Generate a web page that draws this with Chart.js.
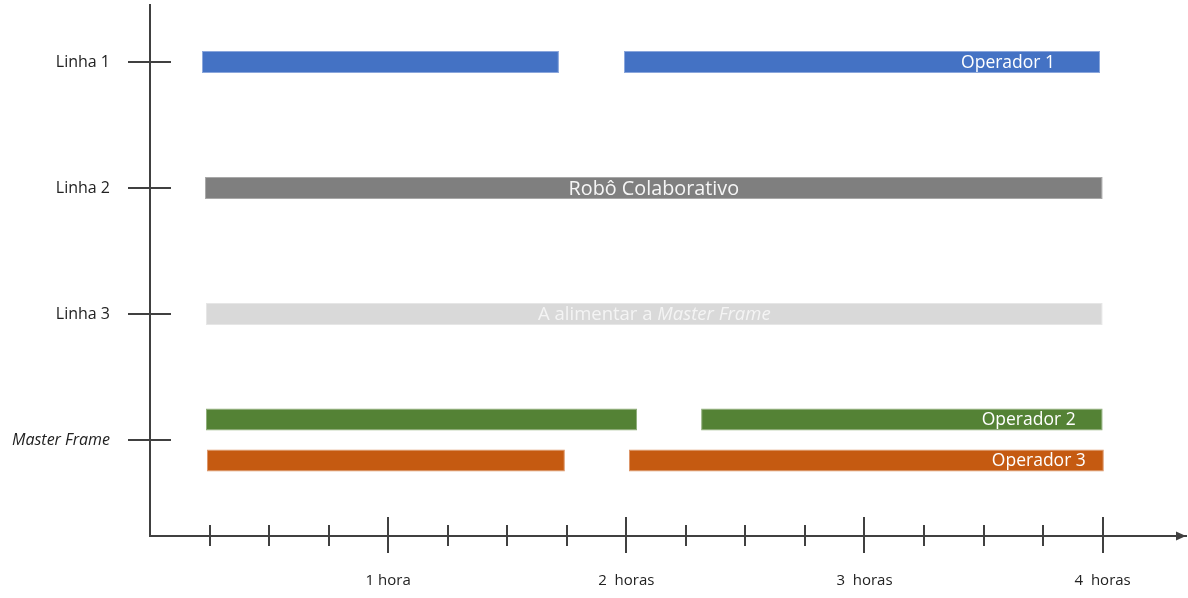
<!DOCTYPE html>
<html>
<head>
<meta charset="utf-8">
<script src="https://cdn.jsdelivr.net/npm/chart.js@4.4.0/dist/chart.umd.min.js"></script>
<style>
html,body{margin:0;padding:0;background:#ffffff;}
#wrap{width:1188px;height:598px;position:relative;}
</style>
</head>
<body>
<div id="wrap"><canvas id="c" width="1188" height="598"></canvas></div>
<script>
// ---- data ----
const rows = ['Linha 1', 'Linha 2', 'Linha 3', 'Master Frame'];
const tickValues = [0.25, 0.5, 0.75, 1, 1.25, 1.5, 1.75, 2, 2.25, 2.5, 2.75, 3, 3.25, 3.5, 3.75, 4];
const tickLabels = ['', '', '', '1 hora', '', '', '', '2  horas', '', '', '', '3  horas', '', '', '', '4  horas'];

// time segments in hours [start, end]
const operador1 = [[0.218, 1.717], [1.99, 3.989]];   // Linha 1
const robo = [[0.231, 4.0]];                         // Linha 2
const alimentar = [[0.235, 4.0]];                    // Linha 3
const operador2 = [[0.235, 2.045], [2.314, 4.0]];    // Master Frame
const operador3 = [[0.239, 1.742], [2.011, 4.005]];  // Master Frame

const seriesNames = ['Operador 1', 'Robô Colaborativo', 'A alimentar a Master Frame', 'Operador 2', 'Operador 3'];
const seriesRows = ['Linha 1', 'Linha 2', 'Linha 3', 'Master Frame', 'Master Frame'];

// ---- styles ----
const FONT = "'Open Sans', 'Liberation Sans', sans-serif";
const AXIS = '#404040';
const colors = ['#4472C4', '#7F7F7F', '#D9D9D9', '#548235', '#C55A11'];
const edgeColors = ['#8aa6dc', '#a8a8a8', '#e6e6e6', '#8fae7a', '#dc9466'];
const textStyles = [
  {seg: 1, align: 'right', pad: 45, size: 17.5, color: '#ffffff'},
  {seg: 0, align: 'center', pad: 0, size: 19.8, color: '#f6f6f6'},
  {seg: 0, align: 'center', pad: 0, size: 18.5, color: '#f4f4f4', italicPart: 'Master Frame'},
  {seg: 1, align: 'right', pad: 27, size: 17.5, color: '#ffffff'},
  {seg: 1, align: 'right', pad: 18, size: 17.5, color: '#ffffff'}
];

const segs = [operador1, robo, alimentar, operador2, operador3];
const toPoints = (list, row) => list.map(([a, b]) => ({x: [a, b], y: rows.indexOf(row)}));

const datasets = segs.map((list, i) => ({
  label: seriesNames[i],
  data: toPoints(list, seriesRows[i]),
  backgroundColor: colors[i],
  borderColor: edgeColors[i],
  borderWidth: 1,
  borderSkipped: false,
  grouped: seriesRows[i] === 'Master Frame',
  categoryPercentage: 0.65,
  barPercentage: 0.9,
  maxBarThickness: 22
}));

const decor = {
  id: 'decor',
  afterDatasetsDraw(chart) {
    const {ctx} = chart;
    ctx.save();
    datasets.forEach((ds, i) => {
      const st = textStyles[i];
      const meta = chart.getDatasetMeta(i);
      const el = meta.data[st.seg];
      if (!el) return;
      const left = Math.min(el.x, el.base), right = Math.max(el.x, el.base);
      const cy = el.y + 1;
      const name = seriesNames[i];
      let runs = [[name, 'normal']];
      if (st.italicPart && name.endsWith(st.italicPart)) {
        runs = [[name.slice(0, name.length - st.italicPart.length), 'normal'], [st.italicPart, 'italic']];
      }
      let total = 0;
      const widths = runs.map(([t, s]) => {
        ctx.font = `${s} 400 ${st.size}px ${FONT}`;
        const w = ctx.measureText(t).width; total += w; return w;
      });
      let x0 = st.align === 'center' ? (left + right) / 2 - total / 2 : right - st.pad - total;
      ctx.fillStyle = st.color;
      ctx.textBaseline = 'middle';
      ctx.textAlign = 'left';
      runs.forEach(([t, s], k) => {
        ctx.font = `${s} 400 ${st.size}px ${FONT}`;
        ctx.fillText(t, x0, cy);
        x0 += widths[k];
      });
    });
    ctx.restore();
  },
  afterDraw(chart) {
    const {ctx, scales: {x, y}, chartArea: a} = chart;
    ctx.save();
    ctx.strokeStyle = AXIS;
    ctx.lineWidth = 2;
    const line = (x1, y1, x2, y2) => { ctx.beginPath(); ctx.moveTo(x1, y1); ctx.lineTo(x2, y2); ctx.stroke(); };
    rows.forEach((r, i) => {
      const py = Math.round(y.getPixelForValue(i));
      line(a.left - 22, py, a.left + 21, py);
    });
    tickValues.forEach(v => {
      const px = Math.round(x.getPixelForValue(v));
      const major = Number.isInteger(v);
      line(px, a.bottom - (major ? 19 : 11), px, a.bottom + (major ? 17 : 10));
    });
    // arrow head
    ctx.fillStyle = AXIS;
    ctx.beginPath();
    ctx.moveTo(a.right, a.bottom);
    ctx.lineTo(a.right - 10, a.bottom - 4.5);
    ctx.lineTo(a.right - 10, a.bottom + 4.5);
    ctx.closePath();
    ctx.fill();
    ctx.restore();
  }
};

new Chart(document.getElementById('c'), {
  type: 'bar',
  data: {datasets},
  plugins: [decor],
  options: {
    responsive: false,
    animation: false,
    indexAxis: 'y',
    layout: {padding: {top: 5, right: 2, bottom: 0, left: 0}},
    plugins: {legend: {display: false}, tooltip: {enabled: false}},
    scales: {
      x: {
        type: 'linear', min: 0, max: 4.35, stacked: false, offset: false,
        afterBuildTicks: s => { s.ticks = tickValues.map(v => ({value: v})); },
        afterFit: s => { s.height = 62; s.paddingLeft = 0; s.paddingRight = 0; },
        grid: {display: false, drawTicks: false},
        border: {display: true, color: AXIS, width: 2},
        ticks: {
          autoSkip: false, maxRotation: 0, padding: 36, color: '#222222',
          font: {family: FONT, size: 15},
          callback: (v, i) => tickLabels[i]
        }
      },
      y: {
        type: 'linear', reverse: true, min: -0.452, max: 3.762, offset: false,
        afterBuildTicks: s => { s.ticks = rows.map((r, i) => ({value: i})); },
        afterFit: s => { s.width = 150; s.paddingTop = 0; s.paddingBottom = 0; },
        grid: {display: false, drawTicks: false},
        border: {display: true, color: AXIS, width: 2},
        ticks: {
          autoSkip: false, padding: 40, color: '#222222',
          font: ctx => ({family: FONT, size: 16, style: ctx.index === 3 ? 'italic' : 'normal'}),
          callback: (v, i) => rows[i]
        }
      }
    }
  }
});
</script>
</body>
</html>
